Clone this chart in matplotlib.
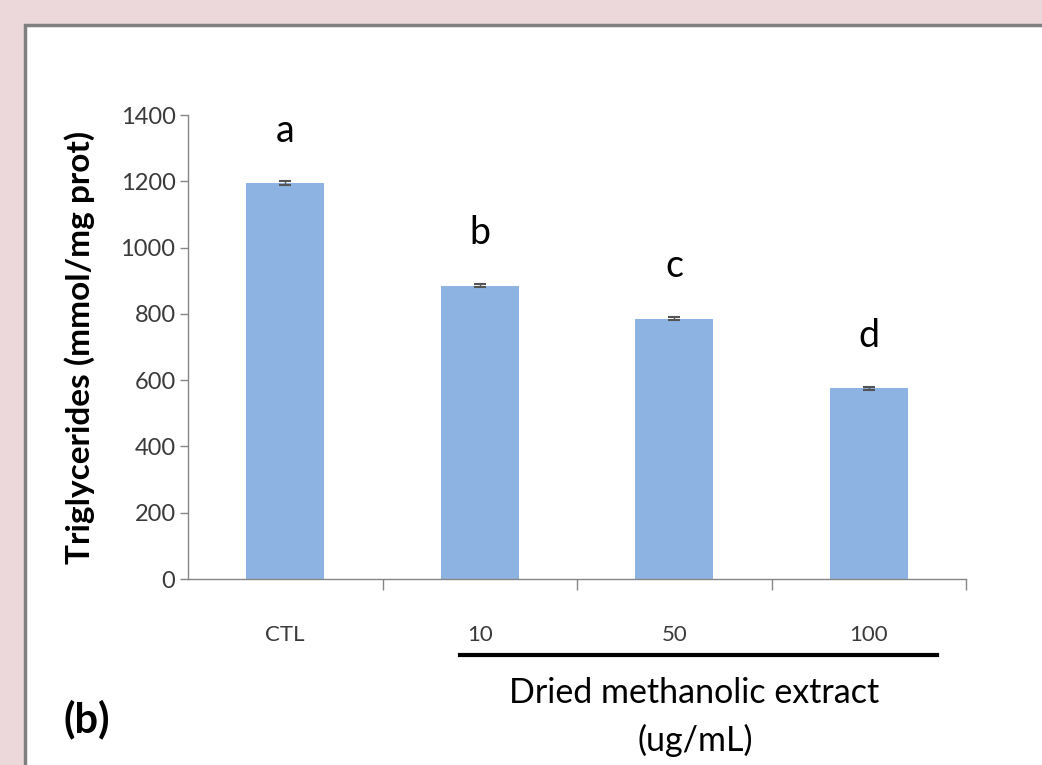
import matplotlib.pyplot as plt
from matplotlib.patches import Rectangle
from matplotlib.lines import Line2D

# data
groups = ["CTL", "10", "50", "100"]
triglycerides = [1195, 885, 785, 575]
errors = [5, 5, 5, 5]
letters = ["a", "b", "c", "d"]
letter_offset = 125
yticks = [0, 200, 400, 600, 800, 1000, 1200, 1400]

plt.rcParams['font.family'] = ['Lato', 'DejaVu Sans']

fig = plt.figure(figsize=(10.42, 7.65), dpi=100)
fig.patch.set_facecolor('#ecd8da')

# white panel with grey frame
panel = Rectangle((25/1042, -0.01), 1.02, 1 - 25/765 + 0.01, transform=fig.transFigure,
                  facecolor='white', edgecolor='#7f7f7f', linewidth=2.5, zorder=0)
fig.add_artist(panel)

ax = fig.add_axes([188/1042, 1 - 579/765, 778/1042, 464/765])
ax.set_facecolor('none')

x = list(range(len(groups)))
ax.bar(x, triglycerides, width=0.4, color='#8db3e2', zorder=2)
ax.errorbar(x, triglycerides, yerr=errors, fmt='none', ecolor='#555555',
            elinewidth=1, capsize=4, capthick=1.5, zorder=3)

for xi, v, lab in zip(x, triglycerides, letters):
    ax.text(xi, v + letter_offset, lab, ha='center', va='baseline', fontsize=27, color='black')

ax.set_xlim(-0.5, 3.5)
ax.set_ylim(0, 1400)
ax.set_yticks(yticks)
ax.set_yticklabels([str(t) for t in yticks], fontsize=17, color='#3a3a3a')
ax.tick_params(axis='y', direction='out', length=6, width=1, color='#868686', pad=3)

ax.set_xticks(x)
ax.set_xticklabels(groups, fontsize=16, color='#3a3a3a')
ax.tick_params(axis='x', which='major', length=0, pad=33)
ax.set_xticks([0.5, 1.5, 2.5, 3.5], minor=True)
ax.tick_params(axis='x', which='minor', direction='out', length=8, width=1, color='#868686')

for s in ['top', 'right']:
    ax.spines[s].set_visible(False)
for s in ['left', 'bottom']:
    ax.spines[s].set_color('#868686')
    ax.spines[s].set_linewidth(1)

fig.text(80/1042, 1 - 347/765, "Triglycerides (mmol/mg prot)", rotation=90,
         ha='center', va='center', fontsize=24, fontweight='bold')

# bracket under the extract doses
fig.add_artist(Line2D([460/1042, 937/1042], [1 - 655/765, 1 - 655/765],
                      transform=fig.transFigure, color='black', linewidth=3))
fig.text(694/1042, 1 - 693/765, "Dried methanolic extract", ha='center', va='center', fontsize=24.5)
fig.text(695/1042, 1 - 740/765, "(ug/mL)", ha='center', va='center', fontsize=24.5)
fig.text(87/1042, 1 - 719/765, "(b)", ha='center', va='center', fontsize=30, fontweight='bold')

fig.savefig('out.png', dpi=100, facecolor=fig.get_facecolor())
